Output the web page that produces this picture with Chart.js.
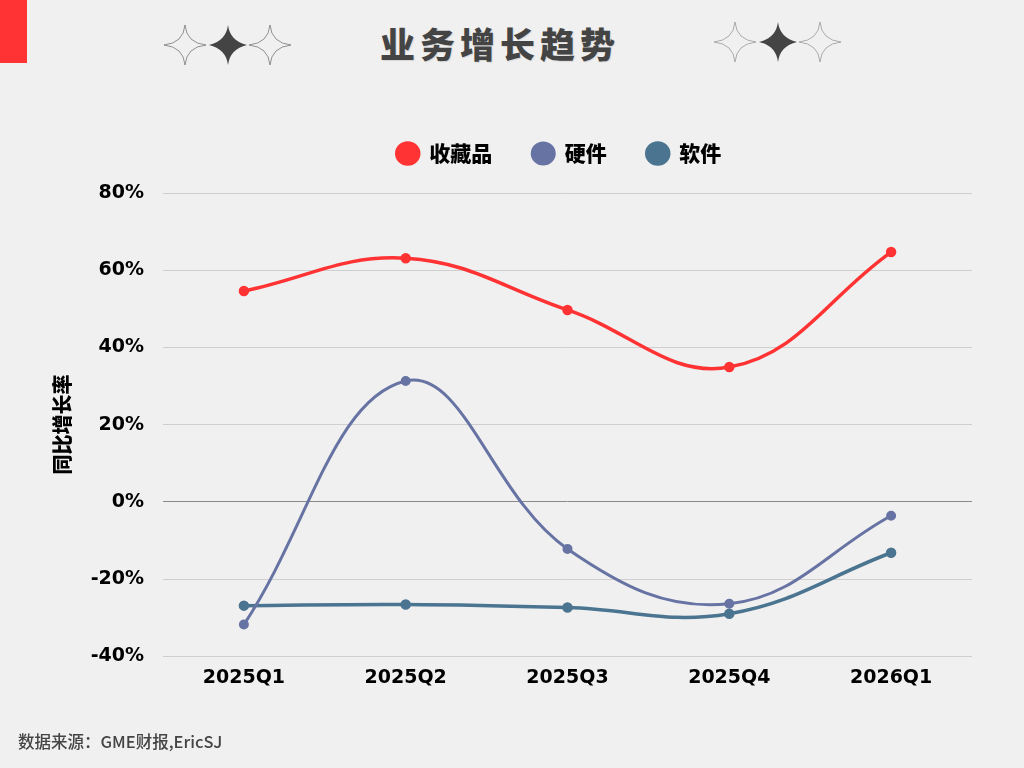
<!DOCTYPE html>
<html>
<head>
<meta charset="utf-8">
<script src="https://cdn.jsdelivr.net/npm/chart.js@4.4.1/dist/chart.umd.min.js"></script>
<style>
  html,body{margin:0;padding:0;background:#f0f0f0;}
  #wrap{position:relative;width:1024px;height:768px;overflow:hidden;background:#f0f0f0;}
  #bar{position:absolute;left:0;top:0;width:27px;height:63px;background:#ff3333;}
  #title{position:absolute;left:380px;top:17px;white-space:nowrap;font-family:"Noto Sans CJK SC";font-weight:900;font-size:35px;color:#444;letter-spacing:5px;text-shadow:1px 1px 1px rgba(0,0,0,0.1);line-height:52px;}
  .spk{position:absolute;top:24px;}
  #foot{position:absolute;left:18px;top:729px;font-family:"Noto Sans CJK SC";font-weight:500;font-size:16.5px;color:#444;}
  canvas{position:absolute;left:0;top:0;}
</style>
</head>
<body>
<div id="wrap">
  <div id="bar"></div>
  <svg class="spk" style="left:163px" width="130" height="42" viewBox="0 0 130 42">
    <path d="M22 1 Q23.5 19 43 21 Q23.5 23 22 41 Q20.5 23 1 21 Q20.5 19 22 1Z" fill="none" stroke="#777" stroke-width="0.8"/>
    <path d="M65 1 Q67 17 84 21 Q67 25 65 41 Q63 25 46 21 Q63 17 65 1Z" fill="#444"/>
    <path d="M107 1 Q108.5 19 128 21 Q108.5 23 107 41 Q105.5 23 86 21 Q105.5 19 107 1Z" fill="none" stroke="#777" stroke-width="0.8"/>
  </svg>
  <svg class="spk" style="left:713px;top:21px" width="130" height="42" viewBox="0 0 130 42">
    <path d="M22 1 Q23.5 19 43 21 Q23.5 23 22 41 Q20.5 23 1 21 Q20.5 19 22 1Z" fill="none" stroke="#999" stroke-width="0.8"/>
    <path d="M65 1 Q67 17 84 21 Q67 25 65 41 Q63 25 46 21 Q63 17 65 1Z" fill="#444"/>
    <path d="M107 1 Q108.5 19 128 21 Q108.5 23 107 41 Q105.5 23 86 21 Q105.5 19 107 1Z" fill="none" stroke="#999" stroke-width="0.8"/>
  </svg>
  <div id="title">业务增长趋势</div>
  <canvas id="c" width="1024" height="768"></canvas>
  <div id="foot">数据来源：GME财报,EricSJ</div>
</div>
<script>
const categories = ["2025Q1","2025Q2","2025Q3","2025Q4","2026Q1"];
const collectibles = [54.6, 63.1, 49.7, 34.9, 64.7];
const hardware = [-31.8, 31.3, -12.2, -26.4, -3.6];
const software = [-26.9, -26.6, -27.4, -29.0, -13.2];
const seriesNames = ["收藏品","硬件","软件"];
const yTicks = [-40,-20,0,20,40,60,80];

const colors = ["#ff3333","#6773a3","#4b7490"];
const tickFont = {family:"DejaVu Sans", weight:"bold", size:19};

const legendShift = {
  id:'legendShift',
  afterLayout(chart){
    const lg = chart.legend;
    if(lg && !lg._shifted){
      const orig = lg.draw.bind(lg);
      lg.draw = function(){
        const ctx = chart.ctx;
        ctx.save(); ctx.translate(53,-19); orig(); ctx.restore();
      };
      lg._shifted = true;
    }
  }
};

new Chart(document.getElementById('c'), {
  type:'line',
  data:{
    labels:categories,
    datasets:[
      {label:seriesNames[0], data:collectibles, borderColor:colors[0], backgroundColor:colors[0], borderWidth:3.5, pointRadius:3.5, tension:0.4},
      {label:seriesNames[1], data:hardware, borderColor:colors[1], backgroundColor:colors[1], borderWidth:3, pointRadius:3.5, tension:0.4},
      {label:seriesNames[2], data:software, borderColor:colors[2], backgroundColor:colors[2], borderWidth:3.5, pointRadius:3.5, tension:0.4}
    ]
  },
  plugins:[legendShift],
  options:{
    responsive:false,
    animation:false,
    layout:{padding:{left:40,right:52,top:122,bottom:77}},
    plugins:{
      legend:{
        display:true, position:'top',
        labels:{usePointStyle:true, pointStyle:'circle', boxHeight:15, pointStyleWidth:22, padding:40,
          color:'#000', font:{family:"Noto Sans CJK SC", weight:'900', size:21}}
      },
      tooltip:{enabled:false}
    },
    scales:{
      x:{
        offset:true,
        grid:{display:false},
        border:{display:false},
        ticks:{color:'#000', font:tickFont, padding:2}
      },
      y:{
        min:-40, max:80,
        afterBuildTicks:(s)=>{ s.ticks = yTicks.map(v=>({value:v})); },
        afterFit:(s)=>{ s.width = 123; },
        border:{display:false},
        grid:{drawTicks:false, color:(c)=> c.tick && c.tick.value===0 ? '#8a8a8a' : '#cfcfcf', lineWidth:1},
        ticks:{color:'#000', font:tickFont, padding:19, callback:(v)=>v+'%'},
        title:{display:true, text:'同比增长率', color:'#000', padding:{top:10,bottom:0},
          font:{family:"Noto Sans CJK SC", weight:'900', size:20}}
      }
    }
  }
});
</script>
</body>
</html>
